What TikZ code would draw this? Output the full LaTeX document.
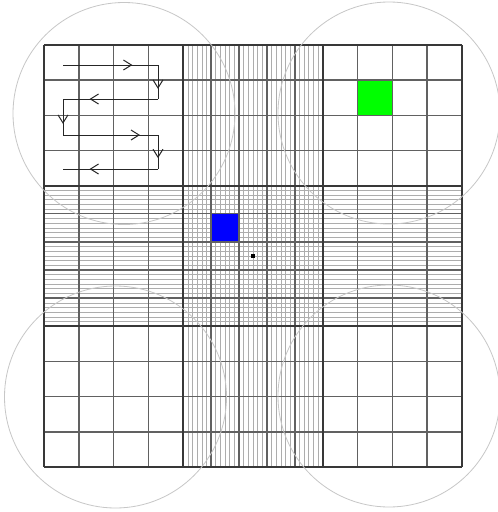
\documentclass[tikz,border=0pt]{standalone}
\usetikzlibrary{arrows.meta,decorations.markings}
\definecolor{pgreen}{RGB}{0,255,0}
\definecolor{pblue}{RGB}{0,0,255}
\tikzset{
  fine/.style={line width=0.7pt,draw=black!32},
  cellline/.style={line width=1.5pt,draw=black!62},
  blockline/.style={line width=2pt,draw=black!78},
  zone/.style={line width=0.8pt,draw=black!22},
  flow/.style={line width=1pt,draw=black!85},
  tipat/.style={postaction={decorate},decoration={markings,mark=at position #1 with {\arrow{Straight Barb[length=8pt,width=10pt,line width=1pt]}}}}
}
\begin{document}
\begin{tikzpicture}[x=1pt,y=-1pt]
\useasboundingbox (0,0) rectangle (498,512);
\fill[white] (0,0) rectangle (498,512);
% fine subdivision lines (middle column and middle row)
\foreach \k in {1,...,29}{
  \draw[fine] ({183.333+\k*4.6444},45) -- ({183.333+\k*4.6444},467);
  \draw[fine] (44,{185.667+\k*4.6889}) -- (462,{185.667+\k*4.6889});
}
% coloured cells
\fill[pgreen] (357.5,80.2) rectangle (392.3,115.3);
\fill[pblue] (211,213.5) rectangle (239,242);
% cell lines
\foreach \x in {79,113.5,148.5,211,239,267,295,357.5,392.5,427}{
  \draw[cellline] (\x,45) -- (\x,467);
}
\foreach \y in {80,115.5,150.5,213.5,242,270,298,361.5,396.5,432}{
  \draw[cellline] (44,\y) -- (462,\y);
}
% block boundaries
\foreach \x in {44,183.333,322.667,462}{
  \draw[blockline] (\x,45) -- (\x,467);
}
\foreach \y in {45,185.667,326.333,467}{
  \draw[blockline] (44,\y) -- (462,\y);
}
% zones
\draw[zone] (124,113.5) circle (111);
\draw[zone] (389,113) circle (111);
\draw[zone] (115.5,397) circle (111);
\draw[zone] (389,396) circle (111);
% centre point
\fill[black] (251,254) rectangle (255,258);
% serpentine scan path
\coordinate (p0) at (63,65);
\coordinate (p1) at (158,65);
\coordinate (p2) at (158,99);
\coordinate (p3) at (63,99);
\coordinate (p4) at (63,135);
\coordinate (p5) at (158,135);
\coordinate (p6) at (158,169);
\coordinate (p7) at (63,169);
\draw[flow,tipat=0.73] (p0) -- (p1);
\draw[flow,tipat=0.7] (p1) -- (p2);
\draw[flow,tipat=0.72] (p2) -- (p3);
\draw[flow,tipat=0.69] (p3) -- (p4);
\draw[flow,tipat=0.81] (p4) -- (p5);
\draw[flow,tipat=0.68] (p5) -- (p6);
\draw[flow,tipat=0.72] (p6) -- (p7);
\end{tikzpicture}
\end{document}
